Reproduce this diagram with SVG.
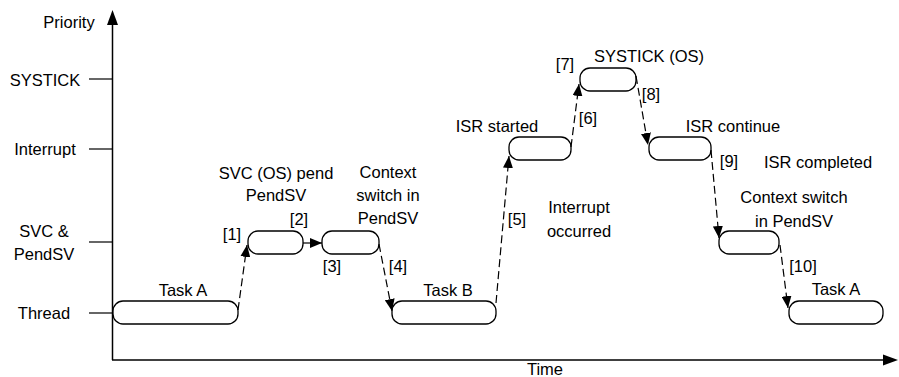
<svg xmlns="http://www.w3.org/2000/svg" width="899" height="377" viewBox="0 0 899 377">
<style>
text{font-family:"Liberation Sans",Arial,sans-serif;font-size:16.5px;fill:#000}
.m{text-anchor:middle}
.box{fill:#fff;stroke:#000;stroke-width:1.3}
.axis{stroke:#000;stroke-width:1.5;fill:none}
.tick{stroke:#000;stroke-width:1.2}
.dash{stroke:#000;stroke-width:1.2;fill:none;stroke-dasharray:8 4;marker-end:url(#ah)}
.solid{stroke-dasharray:none}
</style>
<defs>
<marker id="ah" viewBox="0 0 12 10" refX="12" refY="5" markerWidth="12" markerHeight="10" markerUnits="userSpaceOnUse" orient="auto">
<path d="M0,0 L12,5 L0,10 z" fill="#000"/>
</marker>
</defs>
<g id="axes">
<line class="axis" x1="112.5" y1="360" x2="112.5" y2="24"/>
<path d="M112.5,10 L107,25 L118,25 z" fill="#000"/>
<line class="axis" x1="112" y1="360" x2="884" y2="360"/>
<path d="M898,360 L883,354.5 L883,365.5 z" fill="#000"/>
<line class="tick" x1="89" y1="79" x2="112" y2="79"/>
<line class="tick" x1="89" y1="149" x2="112" y2="149"/>
<line class="tick" x1="89" y1="242" x2="112" y2="242"/>
<line class="tick" x1="89" y1="313" x2="112" y2="313"/>
<text x="69" y="28" class="m">Priority</text>
<text x="45" y="86" class="m">SYSTICK</text>
<text x="45" y="155" class="m">Interrupt</text>
<text x="44" y="237" class="m">SVC &amp;</text>
<text x="44" y="260" class="m">PendSV</text>
<text x="44" y="319" class="m">Thread</text>
<text x="545" y="375" class="m">Time</text>
</g>
<g id="taskA1"><rect class="box" x="113" y="301" width="125" height="23" rx="10"/><text x="183" y="296" class="m">Task A</text></g>
<g id="svc"><rect class="box" x="248" y="231" width="55" height="23" rx="10"/><text x="276" y="179" class="m">SVC (OS) pend</text><text x="276" y="201" class="m">PendSV</text></g>
<g id="pendsv1"><rect class="box" x="322" y="231" width="57" height="23" rx="10"/><text x="388" y="178" class="m">Context</text><text x="388" y="201" class="m">switch in</text><text x="388" y="224" class="m">PendSV</text></g>
<g id="taskB"><rect class="box" x="392" y="301" width="104" height="23" rx="10"/><text x="448" y="296" class="m">Task B</text></g>
<g id="isr1"><rect class="box" x="509" y="137" width="62" height="23" rx="10"/><text x="497" y="132" class="m">ISR started</text></g>
<g id="systick"><rect class="box" x="580" y="68" width="56" height="23" rx="10"/><text x="649" y="62" class="m">SYSTICK (OS)</text></g>
<g id="isr2"><rect class="box" x="649" y="137" width="62" height="23" rx="10"/><text x="733" y="132" class="m">ISR continue</text></g>
<g id="pendsv2"><rect class="box" x="719" y="231" width="60" height="23" rx="10"/><text x="794" y="203" class="m">Context switch</text><text x="794" y="227" class="m">in PendSV</text></g>
<g id="taskA2"><rect class="box" x="789" y="301" width="94" height="23" rx="10"/><text x="836" y="295" class="m">Task A</text></g>
<g id="notes">
<text x="579" y="213" class="m">Interrupt</text>
<text x="579" y="237" class="m">occurred</text>
<text x="818" y="168" class="m">ISR completed</text>
</g>
<g id="connectors">
<path class="dash" d="M238,310 L247,245"/>
<path class="dash solid" d="M303,243 L322,243"/>
<path class="dash" d="M379,244 L392,311"/>
<path class="dash" d="M496,303 L509,156"/>
<path class="dash" d="M571,147 L579,84"/>
<path class="dash" d="M636,76 L648,145"/>
<path class="dash" d="M711,150 L719,238"/>
<path class="dash" d="M780,245 L788,308"/>
<text x="232" y="240" class="m">[1]</text>
<text x="299" y="225" class="m">[2]</text>
<text x="332" y="272" class="m">[3]</text>
<text x="398" y="272" class="m">[4]</text>
<text x="517" y="225" class="m">[5]</text>
<text x="588" y="124" class="m">[6]</text>
<text x="565" y="70" class="m">[7]</text>
<text x="651" y="100" class="m">[8]</text>
<text x="729" y="167" class="m">[9]</text>
<text x="803" y="272" class="m">[10]</text>
</g>
</svg>
